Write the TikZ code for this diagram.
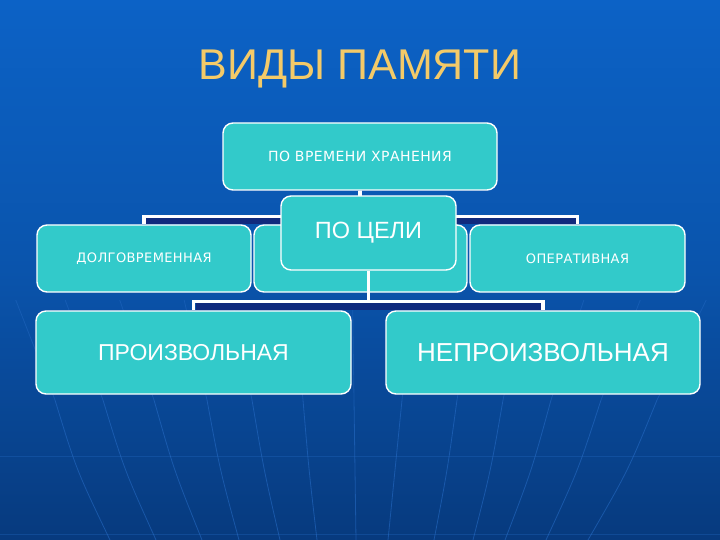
\documentclass[tikz,border=0pt]{standalone}
\usepackage{fontspec}
\setmainfont{Liberation Sans}
\newfontfamily\djfont[LetterSpace=3]{DejaVu Sans}
\definecolor{turq}{RGB}{50,202,202}
\definecolor{gold}{RGB}{244,202,104}
\definecolor{shadowc}{RGB}{16,42,125}
\definecolor{meridian}{RGB}{40,110,200}
\definecolor{bgA}{RGB}{6,36,84}
\definecolor{bgB}{RGB}{7,58,126}
\definecolor{bgC}{RGB}{10,84,172}
\definecolor{bgD}{RGB}{12,98,198}
\definecolor{bgE}{RGB}{11,86,178}
\pgfdeclareverticalshading{bgshade}{100bp}{color(0bp)=(bgA); color(25bp)=(bgB); color(50bp)=(bgC); color(75bp)=(bgD); color(100bp)=(bgE)}
\begin{document}
\begin{tikzpicture}[x=1pt,y=-1pt,
  box/.style={draw=white,line width=1.4pt,fill=turq,rounded corners=10pt,text=white,inner sep=0pt,align=center},
  conn/.style={draw=white,line width=3.5pt},
  merid/.style={draw=meridian,line width=0.8pt,opacity=0.55}]
\useasboundingbox (0,0) rectangle (720,540);
\shade[shading=bgshade] (0,0) rectangle (720,540);
% globe lines
\foreach \a/\b in {55/110,103/156,154/202,207/239,252/280,303/317,354/356,402/388,457/434,503/473,551/505,601/546,657/588}{
  \draw[merid,opacity=0.4] ({\a-(\b-\a)*0.714},300) -- (\a,400);
  \draw[merid] (\a,400) .. controls ({(\a+\b)/2 + (\a-360)*0.02},470) .. (\b,540);
}
\draw[merid,opacity=0.3] (0,456) -- (720,456);
\draw[merid,opacity=0.3] (0,534) -- (720,534);
% title
\node (title) at (360,69) {\fontsize{43}{48}\selectfont\color{gold}ВИДЫ ПАМЯТИ};
% first level
\node[box,minimum width=274pt,minimum height=67pt] (top) at (360,156.5) {\djfont\fontsize{14}{16}\selectfont ПО ВРЕМЕНИ ХРАНЕНИЯ};
\node[box,minimum width=214pt,minimum height=67pt] (dolg) at (144,258.5) {\djfont\fontsize{13}{15}\selectfont ДОЛГОВРЕМЕННАЯ};
\node[box,minimum width=213pt,minimum height=67pt] (mid) at (360.5,258.5) {};
\node[box,minimum width=215pt,minimum height=67pt] (oper) at (577.5,258.5) {\djfont\fontsize{13}{15}\selectfont ОПЕРАТИВНАЯ};
\coordinate (tb) at ([yshift=-26pt]top.south);
\fill[shadowc] ([xshift=2pt]tb -| dolg.north) rectangle ([xshift=-2pt]oper.north);
\draw[conn] (top.south) -- (tb) -| (dolg.north);
\draw[conn] (top.south) -- (tb) -| (oper.north);
\draw[conn] (top.south) -- (mid.north);
% second tree
\node[box,minimum width=175pt,minimum height=74pt] (cel) at (368.5,233) {\fontsize{23.5}{26}\selectfont ПО ЦЕЛИ};
\node[box,minimum width=315pt,minimum height=83pt] (proizv) at (193.5,352.5) {\fontsize{23}{26}\selectfont ПРОИЗВОЛЬНАЯ};
\node[box,minimum width=314pt,minimum height=83pt] (neproizv) at (543,352.5) {\fontsize{26}{29}\selectfont НЕПРОИЗВОЛЬНАЯ};
\coordinate (cb) at ([yshift=-31pt]cel.south);
\fill[shadowc] ([xshift=2pt]cb -| proizv.north) rectangle ([xshift=-2pt]neproizv.north);
\draw[conn] (cel.south) -- (cb) -| (proizv.north);
\draw[conn] (cel.south) -- (cb) -| (neproizv.north);
\end{tikzpicture}
\end{document}
